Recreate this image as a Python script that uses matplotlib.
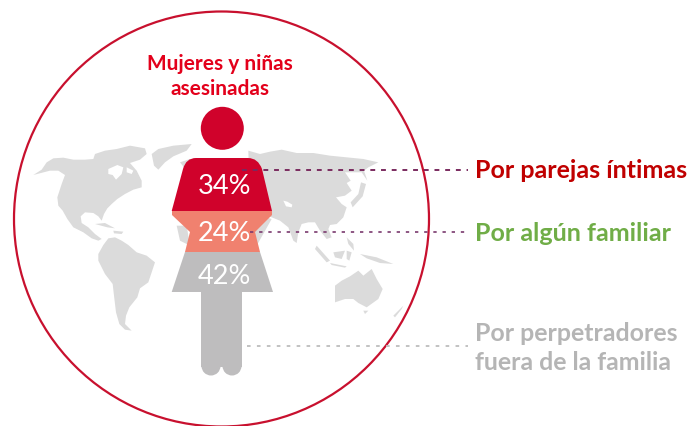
import matplotlib
matplotlib.use("Agg")
import matplotlib.pyplot as plt
from matplotlib.patches import Polygon, Circle
from matplotlib.path import Path
from matplotlib.patches import PathPatch

# Chart content
title_lines = ["Mujeres y niñas", "asesinadas"]
shares = [34, 24, 42]
share_labels = [f"{v}%" for v in shares]
category_labels = ["Por parejas íntimas", "Por algún familiar", "Por perpetradores\nfuera de la familia"]
RED, SALMON, GRAY, MAP = "#D0022B", "#F0816F", "#BEBDBE", "#DBDBDB"

fig = plt.figure(figsize=(6.9, 4.27), dpi=100)
ax = fig.add_axes([0, 0, 1, 1])
ax.set_xlim(0, 690); ax.set_ylim(427, 0); ax.axis("off")
plt.rcParams["font.family"] = ["Lato", "DejaVu Sans"]

def poly(pts, ox, oy, color=MAP, z=1):
    ax.add_patch(Polygon([(ox + x / 3, oy + y / 3) for x, y in pts], closed=True, fc=color, ec="none", zorder=z))

L = (30, 140); R = (230, 140)
# North America
poly([(10,108),(35,92),(50,70),(70,58),(100,56),(130,62),(165,62),(190,60),(195,45),(225,35),(260,30),(300,20),(345,28),(350,45),(330,62),(300,72),(320,95),(335,125),(335,145),(310,152),(285,165),(262,180),(245,195),(232,208),(222,225),(215,245),(205,232),(190,222),(165,220),(152,232),(155,252),(175,265),(195,285),(215,300),(205,305),(185,298),(160,280),(130,265),(112,240),(98,215),(85,200),(82,175),(95,135),(105,108),(85,95),(60,95)], *L)
poly([(235,90),(262,78),(280,85),(275,105),(258,122),(248,108),(235,105)], *L, color="white", z=1.1)
poly([(290,85),(310,95),(305,105),(290,100)], *L, color="white", z=1.1)
# Greenland
poly([(365,45),(385,30),(430,20),(485,15),(470,35),(430,52),(405,70),(385,92),(372,80)], *L)
# South America
poly([(205,345),(220,318),(235,298),(255,295),(275,305),(295,318),(320,340),(350,350),(375,370),(365,400),(355,430),(330,448),(322,475),(298,505),(288,530),(285,555),(305,575),(285,572),(268,555),(258,520),(252,470),(248,435),(225,405),(205,365)], *L)
# Caribbean
poly([(195,255),(225,252),(255,268),(232,265)], *L)
poly([(250,275),(280,278),(275,285),(252,283)], *L)
# Africa and Europe fragments visible beside the figure
poly([(440,260),(470,260),(480,320),(450,305)], *L)
poly([(450,70),(480,60),(500,80),(470,95)], *L)
# Eurasia
poly([(55,35),(90,45),(120,38),(155,32),(200,42),(250,42),(300,50),(350,55),(400,60),(445,70),(415,85),(402,95),(412,125),(395,100),(345,100),(362,125),(350,132),(365,155),(345,170),(318,175),(335,195),(350,205),(340,235),(320,255),(300,258),(295,270),(305,295),(290,300),(270,275),(255,250),(235,250),(215,255),(205,280),(200,312),(190,305),(175,265),(150,245),(125,235),(60,215)], *R)
poly([(160,185),(172,188),(187,197),(185,205),(168,202)], *R, color="white", z=1.1)
# Japan
poly([(362,190),(385,165),(393,130),(408,135),(398,172),(368,205)], *R)
# Africa east
poly([(60,220),(125,240),(80,320),(60,320)], *R)
# Indonesia, Philippines, New Guinea
poly([(260,320),(300,365),(290,370),(255,330)], *R)
poly([(300,372),(350,382),(345,386),(305,378)], *R)
poly([(310,340),(345,335),(335,360),(315,355)], *R)
poly([(350,335),(365,340),(358,365),(350,360)], *R)
poly([(350,295),(370,315),(372,335),(355,315)], *R)
poly([(390,345),(440,355),(490,375),(450,372),(410,358)], *R)
# Australia and neighbours
poly([(315,440),(335,425),(360,412),(385,395),(400,410),(425,390),(440,420),(458,450),(445,480),(410,505),(385,492),(370,480),(345,480),(315,490)], *R)
poly([(400,515),(415,515),(405,525)], *R)
poly([(490,530),(520,500),(515,510),(495,535)], *R)

ax.add_patch(Circle((221.5, 220), 207.5, fc="none", ec="#C8102E", lw=1.6, zorder=2))

# Figure
ax.add_patch(Circle((222.3, 129.3), 21.5, fc=RED, ec="none", zorder=3))
torso = Path([(171.7,212),(183,170),(186,159),(196,159),(248,159),(258,159),(262,170),(272,212),(171.7,212)],
             [Path.MOVETO,Path.LINETO,Path.CURVE3,Path.CURVE3,Path.LINETO,Path.CURVE3,Path.CURVE3,Path.LINETO,Path.CLOSEPOLY])
ax.add_patch(PathPatch(torso, fc=RED, ec="none", zorder=3))
ax.add_patch(Polygon([(172,212),(272,212),(272,216),(255,233),(260,253),(185,253),(190,233),(172,216)], fc=SALMON, ec="none", zorder=3))
ax.add_patch(Polygon([(185,253),(260,253),(273,293),(171.7,293)], fc=GRAY, ec="none", zorder=3))
ax.add_patch(Polygon([(201,293),(242,293),(242,368),(201,368)], fc=GRAY, ec="none", zorder=3))
ax.add_patch(Circle((211,367), 9.5, fc=GRAY, ec="none", zorder=3))
ax.add_patch(Circle((232,367), 9.5, fc=GRAY, ec="none", zorder=3))

for y, s in zip([187, 234, 276.5], share_labels):
    ax.text(224.5, y, s, color="white", fontsize=19.5, ha="center", va="center", zorder=5)

ax.text(220, 76.5, "\n".join(title_lines), color="#E3001B", fontsize=15, fontweight="bold",
        ha="center", va="center", linespacing=1.28, zorder=5)

# Leader lines
ax.plot([242, 468], [171, 171], ls=(0, (2.5, 3)), color="#7A2A5E", lw=1.4, zorder=4)
ax.plot([250, 468], [233, 233], ls=(0, (2, 3.5)), color="#7A3A6E", lw=1.2, zorder=4)
ax.plot([247, 468], [347, 347], ls=(0, (2, 3.5)), color="#BDBDBD", lw=1.3, zorder=4)

ax.text(475, 171, category_labels[0], color="#C00000", fontsize=18, fontweight="bold", va="center", ha="left")
ax.text(475, 234, category_labels[1], color="#70AD47", fontsize=18, fontweight="bold", va="center", ha="left")
ax.text(475, 348, category_labels[2], color="#B5B5B5", fontsize=17.9, fontweight="bold", va="center", ha="left", linespacing=1.29)

fig.savefig("out.png", dpi=100)
